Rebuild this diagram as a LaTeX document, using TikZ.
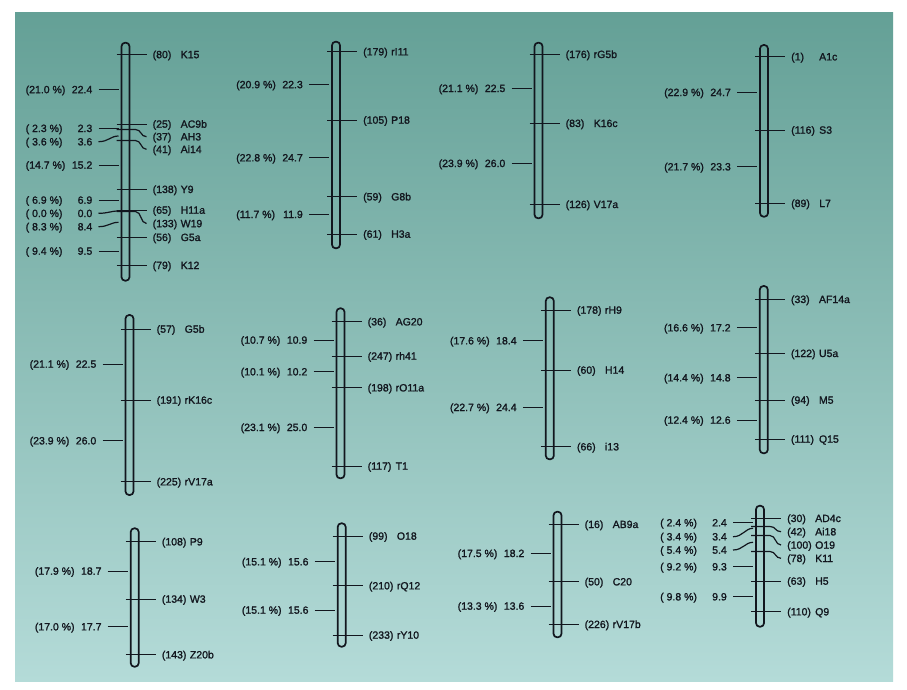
\documentclass[tikz,border=0pt]{standalone}
\usepackage{fontspec}
\setmainfont{Liberation Sans}
\newfontfamily\lblfont[FakeBold=1.4]{Liberation Sans}
\definecolor{bgtop}{RGB}{100,160,150}
\definecolor{bgmid}{RGB}{143,192,186}
\definecolor{bgbot}{RGB}{180,219,216}
\definecolor{ink}{RGB}{18,22,30}
\tikzset{
  barbox/.style={draw=ink, line width=1.7pt, rounded corners=3.6pt, minimum width=8pt, inner sep=0pt},
  tickline/.style={draw=ink, line width=1.2pt},
  lbl/.style={inner sep=0pt, font=\lblfont\fontsize{10.5}{12}\selectfont, text=ink},
}
% chromosome bar: id, cx, ytop, ybot
\newcommand{\chr}[4]{%
  \node[barbox, minimum height={(#4-#3)*1pt}] (#1) at (#2,{(#3+#4)/2}) {};}
% straight marker: id, cx, y, num, name
\newcommand{\mk}[5]{%
  \coordinate (#1a) at ({#2-9},{floor(#3)+0.5});
  \coordinate (#1b) at ({#2+21},{floor(#3)+0.5});
  \node[lbl,anchor=base west] (#1n) at ({#2+27},{#3+3.7}) {(#4)};
  \node[lbl,anchor=base west] (#1m) at ({#2+55},{#3+3.7}) {#5};
  \draw[tickline] (#1a) -- (#1b);}
% curved marker: id, cx, ytick, ylabel, num, name
\newcommand{\mkc}[6]{%
  \coordinate (#1a) at ({#2-9},{floor(#3)+0.5});
  \coordinate (#1b) at ({#2+21},#4);
  \node[lbl,anchor=base west] (#1n) at ({#2+27},{#4+3.7}) {(#5)};
  \node[lbl,anchor=base west] (#1m) at ({#2+55},{#4+3.7}) {#6};
  \draw[tickline] (#1a) -- ++(19,0) .. controls +(6,0) and +(-6,0) .. (#1b);}
% straight interval: id, cx, y, pct, val
\newcommand{\iv}[5]{%
  \coordinate (#1a) at ({#2-27},{floor(#3)+0.5});
  \coordinate (#1b) at ({#2-7},{floor(#3)+0.5});
  \node[lbl,anchor=base west] (#1p) at ({#2-100},{#3+3.7}) {#4};
  \node[lbl,anchor=base east] (#1v) at ({#2-33},{#3+3.7}) {#5};
  \draw[tickline] (#1a) -- (#1b);}
% curved interval: id, cx, ytext, yend, pct, val
\newcommand{\ivc}[6]{%
  \coordinate (#1a) at ({#2-27},#3);
  \coordinate (#1b) at ({#2-7},#4);
  \node[lbl,anchor=base west] (#1p) at ({#2-100},{#3+3.7}) {#5};
  \node[lbl,anchor=base east] (#1v) at ({#2-33},{#3+3.7}) {#6};
  \draw[tickline] (#1a) .. controls +(10,0) and +(-8,0) .. (#1b);}
\begin{document}
\begin{tikzpicture}[x=1pt,y=-1pt]
\useasboundingbox (0,0) rectangle (907,689);
\fill[white] (0,0) rectangle (907,689);
\shade[top color=bgtop, middle color=bgmid, bottom color=bgbot] (15,12) rectangle (893,681);

% ---- group 1
\chr{c1}{125.5}{42.7}{280.7}
\mk{mk15}{125.5}{54.5}{80}{K15}
\iv{v1a}{125.5}{89.5}{(21.0 \%)}{22.4}
\mk{mac9b}{125.5}{124}{25}{AC9b}
\iv{v1b}{125.5}{128.3}{(\ 2.3 \%)}{2.3}
\mkc{mah3}{125.5}{129.5}{136.7}{37}{AH3}
\ivc{v1c}{125.5}{141.7}{136}{(\ 3.6 \%)}{3.6}
\mkc{mai14}{125.5}{140.5}{149.3}{41}{Ai14}
\iv{v1d}{125.5}{165}{(14.7 \%)}{15.2}
\mk{my9}{125.5}{189.3}{138}{Y9}
\iv{v1e}{125.5}{200}{(\ 6.9 \%)}{6.9}
\mk{mh11a}{125.5}{210}{65}{H11a}
\ivc{v1f}{125.5}{213.3}{211}{(\ 0.0 \%)}{0.0}
\mkc{mw19}{125.5}{211.5}{223.5}{133}{W19}
\ivc{v1g}{125.5}{226.7}{222.3}{(\ 8.3 \%)}{8.4}
\mk{mg5a}{125.5}{237.3}{56}{G5a}
\iv{v1h}{125.5}{251}{(\ 9.4 \%)}{9.5}
\mk{mk12}{125.5}{265.3}{79}{K12}

% ---- group 2
\chr{c2}{336}{41.7}{248.3}
\mk{mri11}{336}{51.7}{179}{rI11}
\iv{v2a}{336}{84.5}{(20.9 \%)}{22.3}
\mk{mp18}{336}{120}{105}{P18}
\iv{v2b}{336}{157.7}{(22.8 \%)}{24.7}
\mk{mg8b}{336}{196.7}{59}{G8b}
\iv{v2c}{336}{214.3}{(11.7 \%)}{11.9}
\mk{mh3a}{336}{234}{61}{H3a}

% ---- group 3
\chr{c3}{538.5}{42.7}{218.3}
\mk{mrg5b}{538.5}{54.3}{176}{rG5b}
\iv{v3a}{538.5}{88.3}{(21.1 \%)}{22.5}
\mk{mk16c}{538.5}{123.3}{83}{K16c}
\iv{v3b}{538.5}{163.3}{(23.9 \%)}{26.0}
\mk{mv17a}{538.5}{204.3}{126}{V17a}

% ---- group 4
\chr{c4}{764}{45}{216.7}
\mk{ma1c}{764}{56.7}{1}{A1c}
\iv{v4a}{764}{92.3}{(22.9 \%)}{24.7}
\mk{ms3}{764}{130}{116}{S3}
\iv{v4b}{764}{166.7}{(21.7 \%)}{23.3}
\mk{ml7}{764}{203.3}{89}{L7}

% ---- group 5
\chr{c5}{129.5}{315}{495}
\mk{mg5b}{129.5}{329}{57}{G5b}
\iv{v5a}{129.5}{364}{(21.1 \%)}{22.5}
\mk{mrk16c}{129.5}{400}{191}{rK16c}
\iv{v5b}{129.5}{440.7}{(23.9 \%)}{26.0}
\mk{mrv17a}{129.5}{481.7}{225}{rV17a}

% ---- group 6
\chr{c6}{340.5}{308.3}{478.3}
\mk{mag20}{340.5}{321.7}{36}{AG20}
\iv{v6a}{340.5}{340}{(10.7 \%)}{10.9}
\mk{mrh41}{340.5}{356}{247}{rh41}
\iv{v6b}{340.5}{371.7}{(10.1 \%)}{10.2}
\mk{mro11a}{340.5}{387.7}{198}{rO11a}
\iv{v6c}{340.5}{427.3}{(23.1 \%)}{25.0}
\mk{mt1}{340.5}{466}{117}{T1}

% ---- group 7
\chr{c7}{549.8}{297.3}{459.3}
\mk{mrh9}{549.8}{310}{178}{rH9}
\iv{v7a}{549.8}{340.7}{(17.6 \%)}{18.4}
\mk{mh14}{549.8}{370}{60}{H14}
\iv{v7b}{549.8}{407.3}{(22.7 \%)}{24.4}
\mk{mi13}{549.8}{446.7}{66}{i13}

% ---- group 8
\chr{c8}{763.8}{286}{453.3}
\mk{maf14a}{763.8}{299.3}{33}{AF14a}
\iv{v8a}{763.8}{327.7}{(16.6 \%)}{17.2}
\mk{mu5a}{763.8}{353.3}{122}{U5a}
\iv{v8b}{763.8}{377.7}{(14.4 \%)}{14.8}
\mk{mm5}{763.8}{400}{94}{M5}
\iv{v8c}{763.8}{420}{(12.4 \%)}{12.6}
\mk{mq15}{763.8}{439}{111}{Q15}

% ---- group 9
\chr{c9}{134.7}{528.3}{666.7}
\mk{mp9}{134.7}{541.7}{108}{P9}
\iv{v9a}{134.7}{571}{(17.9 \%)}{18.7}
\mk{mw3}{134.7}{599}{134}{W3}
\iv{v9b}{134.7}{626.7}{(17.0 \%)}{17.7}
\mk{mz20b}{134.7}{654.7}{143}{Z20b}

% ---- group 10
\chr{c10}{341.7}{523.3}{646.7}
\mk{mo18}{341.7}{536}{99}{O18}
\iv{v10a}{341.7}{561.7}{(15.1 \%)}{15.6}
\mk{mrq12}{341.7}{585.7}{210}{rQ12}
\iv{v10b}{341.7}{610}{(15.1 \%)}{15.6}
\mk{mry10}{341.7}{635}{233}{rY10}

% ---- group 11
\chr{c11}{557.5}{511.7}{637.3}
\mk{mab9a}{557.5}{524.3}{16}{AB9a}
\iv{v11a}{557.5}{553.3}{(17.5 \%)}{18.2}
\mk{mc20}{557.5}{581.7}{50}{C20}
\iv{v11b}{557.5}{606}{(13.3 \%)}{13.6}
\mk{mrv17b}{557.5}{624.3}{226}{rV17b}

% ---- group 12
\chr{c12}{760}{505.7}{626.7}
\mk{mad4c}{760}{518.3}{30}{AD4c}
\iv{v12a}{760}{522.7}{(\ 2.4 \%)}{2.4}
\mkc{mai18}{760}{526.7}{531.7}{42}{Ai18}
\ivc{v12b}{760}{536.7}{528.3}{(\ 3.4 \%)}{3.4}
\mkc{mo19}{760}{535}{545}{100}{O19}
\ivc{v12c}{760}{550}{542.3}{(\ 5.4 \%)}{5.4}
\mkc{mk11}{760}{551.7}{558.3}{78}{K11}
\iv{v12d}{760}{566.7}{(\ 9.2 \%)}{9.3}
\mk{mh5}{760}{581}{63}{H5}
\iv{v12e}{760}{596.7}{(\ 9.8 \%)}{9.9}
\mk{mq9}{760}{611.7}{110}{Q9}
\end{tikzpicture}
\end{document}
